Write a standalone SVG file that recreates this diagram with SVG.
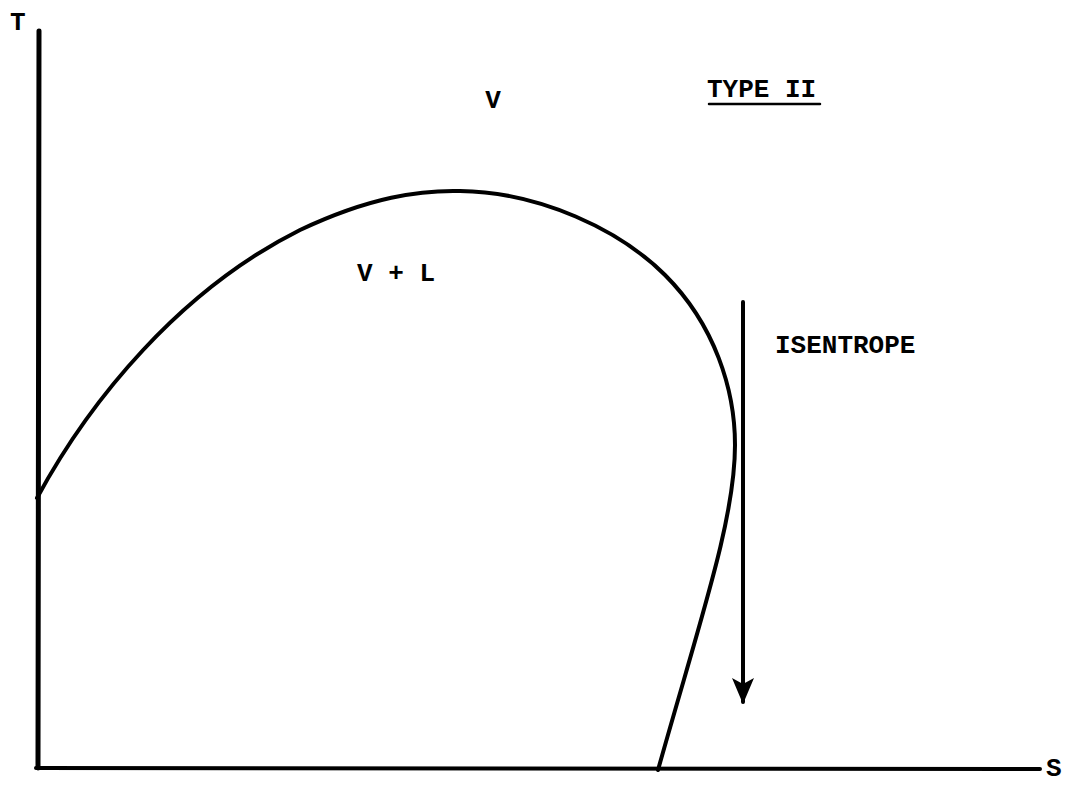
<svg xmlns="http://www.w3.org/2000/svg" width="1065" height="787" viewBox="0 0 1065 787">
<style>
.t{font-family:"Liberation Mono","Courier New",monospace;font-weight:bold;font-size:26px;fill:#000}
.ln{stroke:#000;fill:none;stroke-linecap:round}
</style>
<defs>
<marker id="ah" viewBox="0 0 26 22" refX="24" refY="11" markerWidth="26" markerHeight="22" markerUnits="userSpaceOnUse" orient="auto">
<path d="M0,0 L6,11 L0,22 L26,11 Z" fill="#000"/>
</marker>
</defs>
<rect width="1065" height="787" fill="#fff"/>
<g id="axes">
<path class="ln" d="M39,31 L38,768" stroke-width="5"/>
<path class="ln" d="M36,768 L1040,769" stroke-width="4"/>
<text class="t" x="10" y="30">T</text>
<text class="t" x="1046" y="776">S</text>
</g>
<g id="curve">
<path class="ln" stroke-width="4" d="M37,498 C90,400 180,290 300,230 C370,197 420,190 460,191 C540,192 620,230 665,275 C715,325 735,390 735,445 C735,520 700,620 658,770"/>
</g>
<g id="labels">
<text class="t" x="493" y="108" text-anchor="middle">V</text>
<text class="t" x="707" y="97">TYPE II</text>
<path class="ln" d="M709,104 L820,104" stroke-width="2.5"/>
<text class="t" x="357" y="281">V + L</text>
<text class="t" x="775" y="353">ISENTROPE</text>
</g>
<g id="connectors">
<path class="ln" d="M743,302 L743,702" stroke-width="4" marker-end="url(#ah)"/>
</g>
</svg>
